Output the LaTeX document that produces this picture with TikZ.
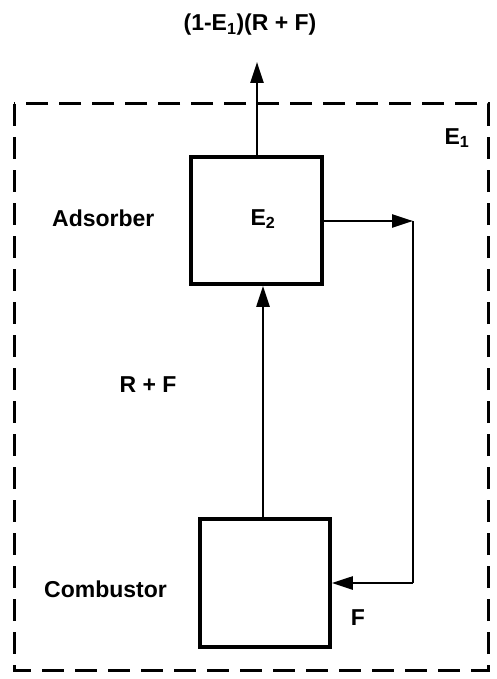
\documentclass[tikz,border=0pt]{standalone}
\usepackage{fontspec}
\setmainfont{Liberation Sans}
\usetikzlibrary{arrows.meta}
\begin{document}
\begin{tikzpicture}[x=1pt,y=-1pt,
  unitbox/.style={draw,line width=3.6pt,inner sep=0pt},
  flow/.style={line width=2.4pt,-{Triangle[length=21pt,width=13pt]}},
  plain/.style={line width=2.4pt},
  lab/.style={font=\bfseries\fontsize{23}{26}\selectfont,inner sep=0pt},
  envelope/.style={line width=3pt,dash pattern=on 22pt off 11pt}]
\useasboundingbox (0,0) rectangle (496,679);
\draw[envelope] (14,104) rectangle (488,670);
\node[unitbox,minimum width=131pt,minimum height=127pt] (ads) at (256.5,220.5) {};
\node[unitbox,minimum width=130pt,minimum height=128pt] (comb) at (265,583) {};
\coordinate (top) at (257,62);
\coordinate (c1) at (413,221);
\coordinate (c2) at (413,583);
\draw[flow] (comb.north -| 263,0) -- (ads.south -| 263,0);
\draw[flow] (ads.north -| top) -- (top);
\draw[flow] (ads.east |- c1) -- (c1);
\draw[plain] (c1) -- (c2);
\draw[flow] (c2) -- (comb.east |- c2);
\node[lab] (toplab) at (250,25) {(1-E$_{\mathbf 1}$)(R + F)};
\node[lab,anchor=west] (adslab) at (52,218) {Adsorber};
\node[lab] (e2) at (263,219) {E$_{\mathbf 2}$};
\node[lab] (e1) at (457,138) {E$_{\mathbf 1}$};
\node[lab] (rf) at (148,385) {R + F};
\node[lab,anchor=west] (comblab) at (44,589) {Combustor};
\node[lab] (f) at (358,618) {F};
\end{tikzpicture}
\end{document}
